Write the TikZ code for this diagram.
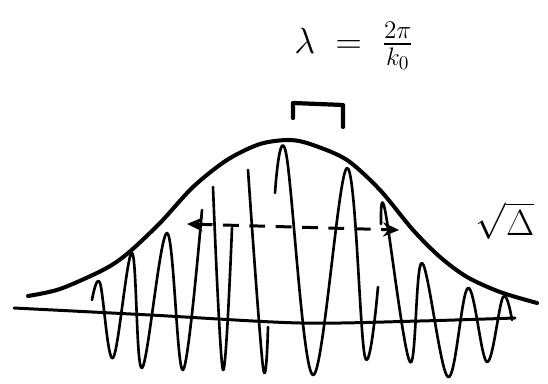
\documentclass[tikz,border=0pt]{standalone}
\usepackage{amsmath}
\usepackage{amssymb}
\usepackage{tikz}
\usetikzlibrary{
  arrows.meta, positioning, calc
}
\usepackage{xcolor}
\tikzset{
  envelope/.style={line width=2.3pt, line cap=round, line join=round},
  wavepen/.style={line width=1.5pt, line cap=round, line join=round},
  axisline/.style={line width=1.7pt, line cap=round},
  widtharrow/.style={
    {Stealth[length=9pt,width=8pt]}-{Stealth[length=9pt,width=8pt]},
    line width=1.7pt, dash pattern=on 9pt off 6pt
  },
  bracketpen/.style={line width=2.4pt, line cap=round, line join=round},
  handlabel/.style={inner sep=0pt, font=\fontsize{21}{24}\selectfont}
}

\begin{document}
\begin{tikzpicture}[x=0.02cm, y=-0.02cm]
  \useasboundingbox (0,0) rectangle (548,384);
  \draw[axisline] plot[smooth] coordinates
    {(14,308) (150,315) (300,323) (420,321) (515,318)};
  \draw[envelope] plot[smooth] coordinates
    {(28,296) (60,289) (103,270) (127,254) (160,223) (193,187) (227,160)
     (260,144) (290,140) (313,145) (347,160) (380,190) (413,230) (440,257)
     (467,277) (500,292) (537,303)};
  \draw[wavepen] plot[smooth, tension=0.6] coordinates
    {(92,300) (100,283) (113,358) (132,253) (142,368) (167,233) (183,370) (202,210)};
  \draw[wavepen] plot[smooth, tension=0.6] coordinates
    {(213,187) (223,370) (232,228)};
  \draw[wavepen] plot[smooth, tension=0.6] coordinates
    {(248,170) (263,367) (268,327)};
  \draw[wavepen] plot[smooth, tension=0.6] coordinates
    {(275,193) (286,153) (313,375) (347,168) (365,357) (378,287)};
  \draw[wavepen] plot[smooth, tension=0.6] coordinates
    {(381,224) (385,210) (410,362) (422,263) (448,377) (468,288) (487,362)
     (503,297) (512,320)};
  \coordinate (leftend) at (187,224);
  \coordinate (rightend) at (399,230);
  \draw[widtharrow] (leftend) -- (rightend);
  \node[handlabel] (packetwidth) at (505,221) {$\sqrt{\Delta}$};
  \draw[bracketpen] (293,118) -- (293,103) -- (343,105) -- (343,127);
  \node[handlabel] (wavelength) at (354,46) {$\lambda\;=\;\tfrac{2\pi}{k_0}$};
\end{tikzpicture}
\end{document}
